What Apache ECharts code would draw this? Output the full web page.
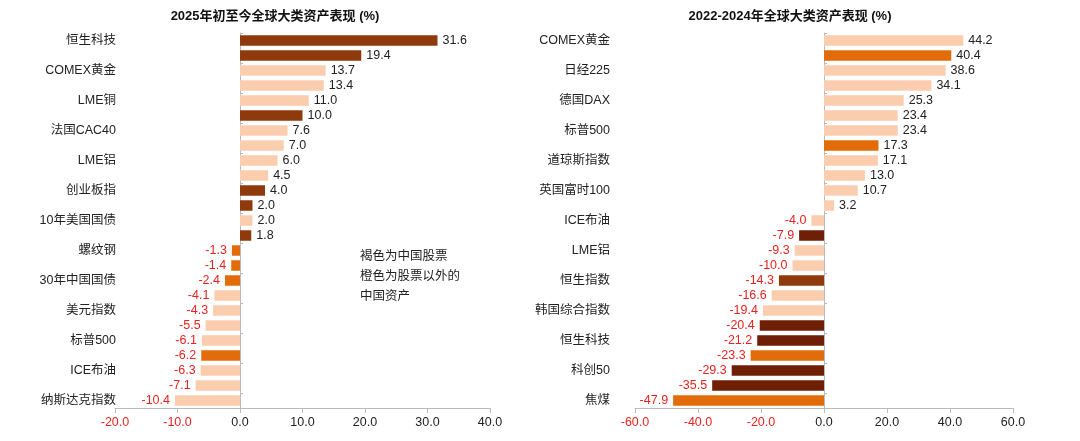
<!DOCTYPE html>
<html lang="zh">
<head>
  <meta charset="UTF-8">
  <title>全球大类资产表现</title>
  <script src="https://cdn.jsdelivr.net/npm/echarts@6/dist/echarts.min.js"></script>
  <style>body{margin:0;background:#fff}</style>
</head>
<body>
<div id="main" style="width:1080px;height:441px;"></div>
<script type="text/javascript">
  // 左图：2025年初至今
  var leftNames = ['恒生科技','恒生指数','COMEX黄金','德国DAX','LME铜','科创50','法国CAC40','韩国综合指数','LME铝','英国富时100','创业板指','上证指数','10年美国国债','沪深300','螺纹钢','10年中国国债','30年中国国债','道琼斯指数','美元指数','印度SENSEX30','标普500','焦煤','ICE布油','日经225','纳斯达克指数'];
  var leftValues = [31.6,19.4,13.7,13.4,11.0,10.0,7.6,7.0,6.0,4.5,4.0,2.0,2.0,1.8,-1.3,-1.4,-2.4,-4.1,-4.3,-5.5,-6.1,-6.2,-6.3,-7.1,-10.4];
  // 0 其他  1 中国股票  2 股票以外的中国资产  3 中国股票(深色)
  var leftTypes = [1,1,0,0,0,1,0,0,0,0,1,1,0,1,2,2,2,0,0,0,0,2,0,0,0];

  // 右图：2022-2024年
  var rightNames = ['COMEX黄金','30年中国国债','日经225','印度SENSEX30','德国DAX','纳斯达克指数','标普500','10年中国国债','道琼斯指数','美元指数','英国富时100','法国CAC40','ICE布油','上证指数','LME铝','LME铜','恒生指数','10年美国国债','韩国综合指数','沪深300','恒生科技','螺纹钢','科创50','创业板指','焦煤'];
  var rightValues = [44.2,40.4,38.6,34.1,25.3,23.4,23.4,17.3,17.1,13.0,10.7,3.2,-4.0,-7.9,-9.3,-10.0,-14.3,-16.6,-19.4,-20.4,-21.2,-23.3,-29.3,-35.5,-47.9];
  var rightTypes = [0,2,0,0,0,0,0,2,0,0,0,0,0,3,0,0,1,0,0,3,3,2,3,3,2];

  var colors = ['#FACDAE','#8E3A0C','#E36C0A','#6E1F06'];

  function toData(vals, types) {
    return vals.map(function (v, i) {
      return {
        value: v,
        itemStyle: { color: colors[types[i]] },
        label: { color: v < 0 ? '#E8231E' : '#222', position: v < 0 ? 'left' : 'right' }
      };
    });
  }

  var font = 'Liberation Sans, Noto Sans CJK SC, sans-serif';

  function yAxis(idx, names) {
    return {
      type: 'category', gridIndex: idx, data: names, inverse: true,
      axisLine: { onZero: true, lineStyle: { color: '#bbb' } },
      axisTick: { show: true, lineStyle: { color: '#bbb' }, length: 3, inside: true },
      axisLabel: { show: false }
    };
  }
  function labelAxis(idx, names) {
    return {
      type: 'category', gridIndex: idx, data: names, inverse: true,
      axisLine: { show: false }, axisTick: { show: false },
      axisLabel: { color: '#222', fontSize: 12.5, fontFamily: font, margin: 0 }
    };
  }
  function xAxis(idx, min, max, step) {
    return { type: 'value', gridIndex: idx, min: min, max: max, interval: step,
      splitLine: { show: false },
      axisLine: { show: true, lineStyle: { color: '#bbb' } },
      axisTick: { show: true, lineStyle: { color: '#bbb' } },
      axisLabel: { fontSize: 12.5, fontFamily: font,
        formatter: function (v) { return v.toFixed(1); },
        color: function (v) { return v < 0 ? '#E8231E' : '#222'; } } };
  }

  var myChart = echarts.init(document.getElementById('main'));
  var option = {
    animation: false,
    textStyle: { fontFamily: font },
    title: [
      { text: '2025年初至今全球大类资产表现 (%)', left: 270, top: 5, textAlign: 'center',
        textStyle: { fontSize: 13, fontWeight: 'bold', color: '#111', fontFamily: font } },
      { text: '2022-2024年全球大类资产表现 (%)', left: 785, top: 5, textAlign: 'center',
        textStyle: { fontSize: 13, fontWeight: 'bold', color: '#111', fontFamily: font } }
    ],
    grid: [
      { left: 115, right: 590, top: 33, bottom: 33 },
      { left: 635, right: 67, top: 33, bottom: 33 },
      { left: 116, width: 0, top: 33, bottom: 33 },
      { left: 610, width: 0, top: 33, bottom: 33 }
    ],
    xAxis: [
      xAxis(0, -20, 40, 10),
      xAxis(1, -60, 60, 20),
      { type: 'value', gridIndex: 2, show: false },
      { type: 'value', gridIndex: 3, show: false }
    ],
    yAxis: [yAxis(0, leftNames), yAxis(1, rightNames), labelAxis(2, leftNames), labelAxis(3, rightNames)],
    series: [
      { type: 'bar', xAxisIndex: 0, yAxisIndex: 0, barWidth: '70%',
        data: toData(leftValues, leftTypes),
        label: { show: true, fontSize: 12.5, fontFamily: font,
          formatter: function (p) { return p.value.toFixed(1); } } },
      { type: 'bar', xAxisIndex: 1, yAxisIndex: 1, barWidth: '70%',
        data: toData(rightValues, rightTypes),
        label: { show: true, fontSize: 12.5, fontFamily: font,
          formatter: function (p) { return p.value.toFixed(1); } } }
    ],
    graphic: [
      { type: 'text', left: 360, top: 247,
        style: { text: '褐色为中国股票\n橙色为股票以外的\n中国资产', fontSize: 12.5, lineHeight: 20,
          fill: '#222', fontFamily: font } }
    ]
  };
  myChart.setOption(option);
</script>
</body>
</html>
